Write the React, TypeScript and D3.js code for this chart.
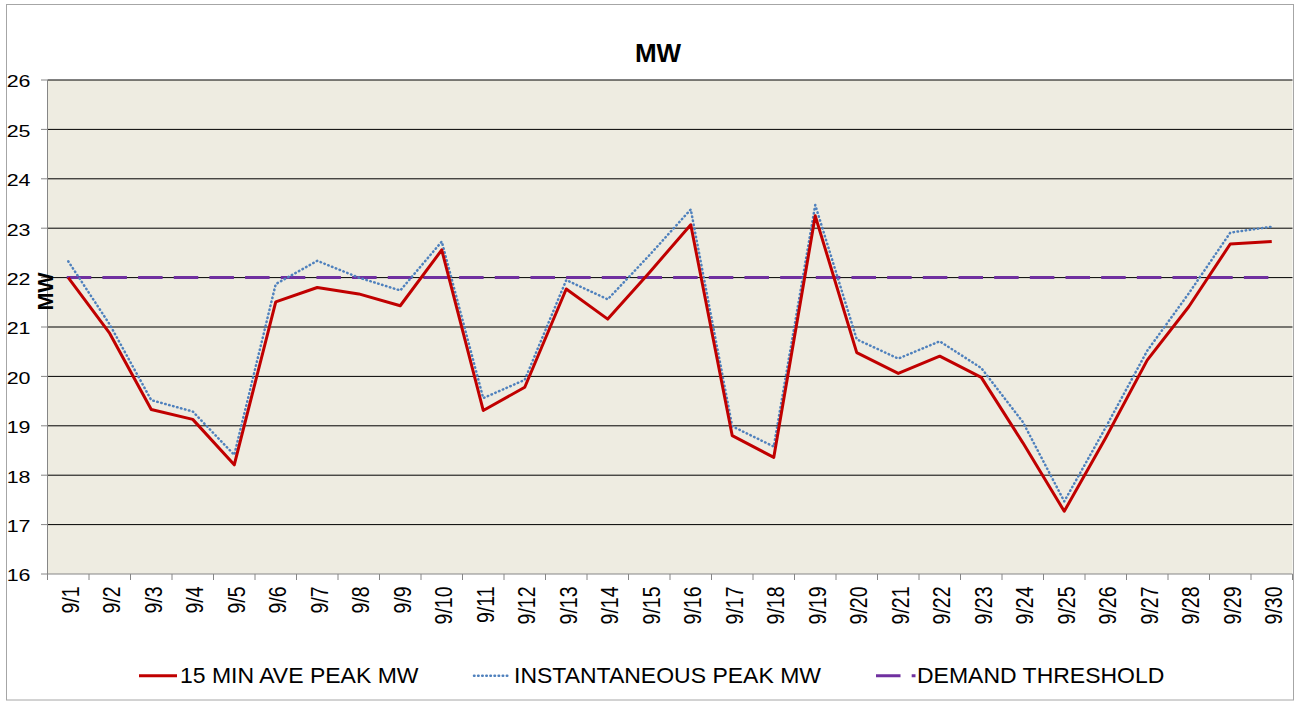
import React from "react";
import * as d3 from "d3";

const categories = [
  "9/1", "9/2", "9/3", "9/4", "9/5", "9/6", "9/7", "9/8", "9/9", "9/10",
  "9/11", "9/12", "9/13", "9/14", "9/15", "9/16", "9/17", "9/18", "9/19", "9/20",
  "9/21", "9/22", "9/23", "9/24", "9/25", "9/26", "9/27", "9/28", "9/29", "9/30",
];

const avePeak = [
  22.0, 20.87, 19.33, 19.13, 18.21, 21.51, 21.8, 21.67, 21.43, 22.56,
  19.31, 19.78, 21.77, 21.16, 22.1, 23.07, 18.8, 18.36, 23.25, 20.48,
  20.06, 20.41, 19.98, 18.66, 17.27, 18.76, 20.33, 21.41, 22.68, 22.73,
];

const instPeak = [
  22.33, 21.05, 19.52, 19.29, 18.41, 21.87, 22.34, 22.0, 21.74, 22.73,
  19.56, 19.93, 21.95, 21.56, 22.45, 23.38, 18.99, 18.58, 23.47, 20.75,
  20.36, 20.71, 20.17, 19.08, 17.47, 18.97, 20.52, 21.68, 22.91, 23.03,
];

const threshold = categories.map(() => 22);

const yTicks = [16, 17, 18, 19, 20, 21, 22, 23, 24, 25, 26];

const seriesNames = ["15 MIN AVE PEAK MW", "INSTANTANEOUS PEAK MW", "DEMAND THRESHOLD"];

const FONT = "'Liberation Sans', Arial, sans-serif";

export default function App() {
  const left = 47.5;
  const right = 1292.5;
  const top = 80;
  const bottom = 574;

  const x = d3.scaleBand<string>().domain(categories).range([left, right]).padding(0);
  const bw = x.bandwidth();
  const cx = (c: string) => (x(c) as number) + bw / 2;
  const y = d3.scaleLinear().domain([16, 26]).range([bottom, top]);

  const line = d3
    .line<number>()
    .x((_, i) => cx(categories[i]))
    .y((v) => y(v));

  const red = "#C00000";
  const blue = "#4F81BD";
  const purple = "#7030A0";

  const legendY = 675.7;

  return (
    <svg
      width={1294}
      height={701}
      style={{ position: "absolute", left: 0, top: 0, background: "#fff" }}
    >
      <rect x={6.5} y={4.5} width={1287} height={695.5} fill="#fff" stroke="#A6A6A6" strokeWidth={1} />
      <rect x={left} y={top} width={right - left} height={bottom - top} fill="#EEECE1" />

      {/* gridlines */}
      {yTicks
        .filter((t) => t !== 16)
        .map((t) => (
          <line key={"g" + t} x1={left} x2={right} y1={y(t)} y2={y(t)} stroke="#000" strokeWidth={1} />
        ))}

      {/* axes */}
      <line x1={left} x2={left} y1={top} y2={bottom} stroke="#868686" strokeWidth={1} />
      <line x1={left} x2={right} y1={bottom} y2={bottom} stroke="#868686" strokeWidth={1} />
      {yTicks.map((t) => (
        <line key={"yt" + t} x1={41} x2={left} y1={y(t)} y2={y(t)} stroke="#868686" strokeWidth={1} />
      ))}
      {categories.map((c) => (
        <line
          key={"xt" + c}
          x1={x(c) as number}
          x2={x(c) as number}
          y1={bottom}
          y2={bottom + 6}
          stroke="#868686"
          strokeWidth={1}
        />
      ))}
      <line x1={right} x2={right} y1={bottom} y2={bottom + 6} stroke="#868686" strokeWidth={1} />

      {/* y tick labels */}
      {yTicks.map((t) => (
        <text
          key={"yl" + t}
          transform={`translate(30.5, ${y(t) + 7.3}) scale(1.3, 1)`}
          textAnchor="end"
          fontFamily={FONT}
          fontSize={16.5}
          fill="#000"
        >
          {t}
        </text>
      ))}

      {/* x tick labels */}
      {categories.map((c) => (
        <text
          key={"xl" + c}
          transform={`translate(${cx(c) + 10.25}, 586.5) rotate(-90) scale(1, 1.2)`}
          textAnchor="end"
          fontFamily={FONT}
          fontSize={19.5}
          fill="#000"
        >
          {c}
        </text>
      ))}

      {/* series */}
      <path
        d={line(threshold) || ""}
        fill="none"
        stroke={purple}
        strokeWidth={3}
        strokeDasharray="21.5 14.17"
        strokeLinecap="square"
      />
      <path
        d={line(instPeak) || ""}
        fill="none"
        stroke={blue}
        strokeWidth={2.5}
        strokeDasharray="0.5 3.6"
        strokeLinecap="round"
        strokeLinejoin="round"
      />
      <path d={line(avePeak) || ""} fill="none" stroke={red} strokeWidth={3} strokeLinejoin="round" />

      {/* titles */}
      <text x={658} y={62} textAnchor="middle" fontFamily={FONT} fontWeight="bold" fontSize={26} fill="#000">
        MW
      </text>
      <text
        transform="translate(53.3, 291.5) rotate(-90)"
        textAnchor="middle"
        fontFamily={FONT}
        fontWeight="bold"
        fontSize={21.5}
        fill="#000"
      >
        MW
      </text>

      {/* legend */}
      <line x1={139} x2={177} y1={legendY} y2={legendY} stroke={red} strokeWidth={3} />
      <text transform="translate(180, 683) scale(1.075, 1)" fontFamily={FONT} fontSize={21.4} fill="#000">
        {seriesNames[0]}
      </text>
      <line
        x1={474}
        x2={510}
        y1={legendY}
        y2={legendY}
        stroke={blue}
        strokeWidth={2.5}
        strokeDasharray="0.5 3.6"
        strokeLinecap="round"
      />
      <text transform="translate(514, 683) scale(1.075, 1)" fontFamily={FONT} fontSize={21.4} fill="#000">
        {seriesNames[1]}
      </text>
      <line
        x1={877.5}
        x2={914}
        y1={legendY}
        y2={legendY}
        stroke={purple}
        strokeWidth={3}
        strokeDasharray="21.5 14.17"
        strokeLinecap="square"
      />
      <text transform="translate(917, 683) scale(1.075, 1)" fontFamily={FONT} fontSize={21.4} fill="#000">
        {seriesNames[2]}
      </text>
    </svg>
  );
}
